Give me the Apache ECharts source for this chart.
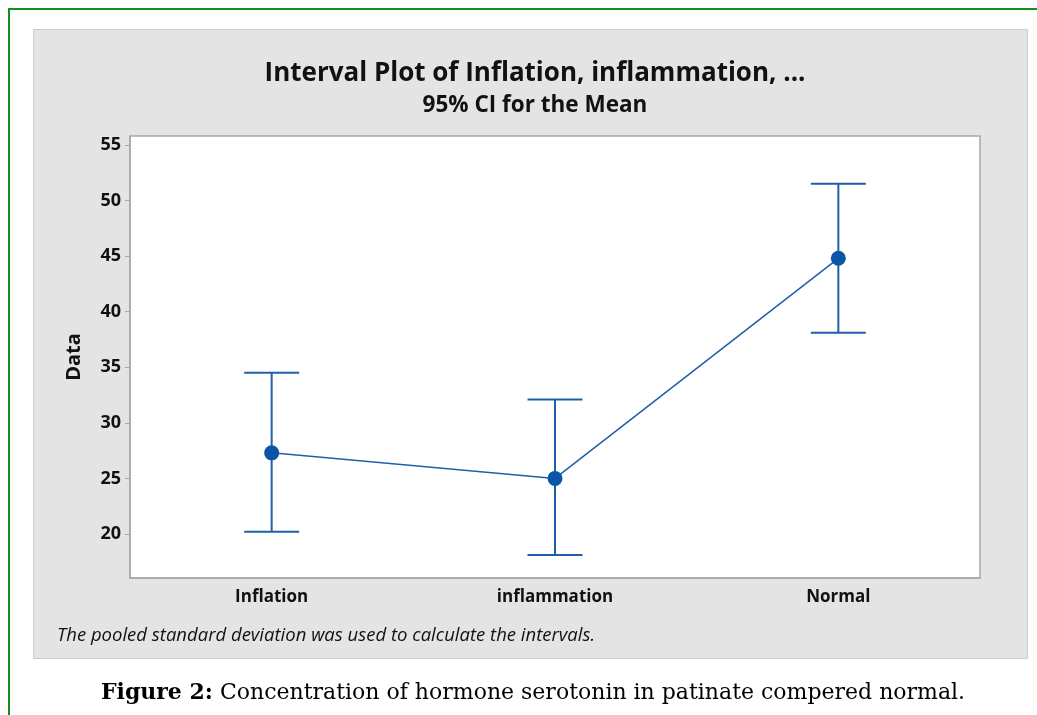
<!DOCTYPE html>
<html>
<head>
<meta charset="utf-8">
<script src="https://cdn.jsdelivr.net/npm/echarts@6/dist/echarts.min.js"></script>
<style>
  html, body { margin: 0; padding: 0; background: #fff; }
  #container { width: 1037px; height: 715px; }
</style>
</head>
<body>
<div id="container"></div>
<script>
var groups = ['Inflation', 'inflammation', 'Normal']
var means = [27.3, 25.0, 44.8]
var lower = [20.2, 18.1, 38.1]
var upper = [34.5, 32.1, 51.5]
var yTicks = [20, 25, 30, 35, 40, 45, 50, 55]

var blue = '#1f5fa8'
var sans = '"Open Sans", "Noto Sans", sans-serif'
var dom = document.getElementById('container')
var myChart = echarts.init(dom)

var barData = groups.map(function(g, i) {
  return [i, lower[i], upper[i]]
})

var option = {
  backgroundColor: '#fff',
  animation: false,
  graphic: [{
    type: 'rect',
    z: -10,
    shape: { x: 9, y: 9, width: 1040, height: 720 },
    style: { fill: '#fff', stroke: '#1a8c1a', lineWidth: 2 }
  }, {
    type: 'rect',
    z: -9,
    shape: { x: 33.5, y: 29.5, width: 994, height: 629 },
    style: { fill: '#e4e4e4', stroke: '#cdcdcd', lineWidth: 1 }
  }, {
    type: 'text',
    x: 57,
    y: 626,
    style: {
      text: 'The pooled standard deviation was used to calculate the intervals.',
      font: 'italic 18.5px "Open Sans", "Noto Sans", sans-serif',
      fill: '#111'
    }
  }, {
    type: 'text',
    x: 533,
    y: 682,
    style: {
      align: 'center',
      rich: {
        b: { fontFamily: '"DejaVu Serif", serif', fontWeight: 'bold', fontSize: 22, fill: '#000' },
        n: { fontFamily: '"DejaVu Serif", serif', fontSize: 22, fill: '#000' }
      },
      text: '{b|Figure 2:}{n| Concentration of hormone serotonin in patinate compered normal.}'
    }
  }],
  title: [{
    text: 'Interval Plot of Inflation, inflammation, ...',
    subtext: '95% CI for the Mean',
    left: 530,
    textAlign: 'center',
    top: 56,
    itemGap: 7,
    textStyle: {
      fontFamily: sans,
      fontWeight: 'bold',
      fontSize: 26,
      color: '#111'
    },
    subtextStyle: {
      fontFamily: sans,
      fontWeight: 'bold',
      fontSize: 22.5,
      color: '#111'
    }
  }],
  grid: {
    left: 130,
    top: 136,
    width: 850,
    height: 442,
    show: true,
    backgroundColor: '#fff',
    borderColor: '#a8a8a8',
    borderWidth: 1.5
  },
  xAxis: {
    type: 'category',
    data: groups,
    boundaryGap: true,
    axisLine: { lineStyle: { color: '#a8a8a8', width: 1.5 } },
    axisTick: { alignWithLabel: true, length: 5, lineStyle: { color: '#a8a8a8' } },
    axisLabel: {
      margin: 11,
      fontFamily: sans,
      fontWeight: 'bold',
      fontSize: 17,
      color: '#111'
    },
    splitLine: { show: false }
  },
  yAxis: {
    type: 'value',
    min: 16.04,
    max: 55.8,
    name: 'Data',
    nameLocation: 'middle',
    nameGap: 46,
    nameTextStyle: {
      fontFamily: sans,
      fontWeight: 'bold',
      fontSize: 20,
      color: '#111'
    },
    axisLine: { show: true, lineStyle: { color: '#a8a8a8', width: 1.5 } },
    axisTick: { show: true, length: 5, customValues: yTicks, lineStyle: { color: '#a8a8a8' } },
    axisLabel: {
      customValues: yTicks,
      margin: 9,
      fontFamily: sans,
      fontWeight: 'bold',
      fontSize: 18,
      color: '#111'
    },
    splitLine: { show: false }
  },
  series: [{
    type: 'custom',
    name: 'CI',
    data: barData,
    encode: { x: 0, y: [1, 2] },
    renderItem: function(params, api) {
      var x = api.value(0)
      var lo = api.coord([x, api.value(1)])
      var hi = api.coord([x, api.value(2)])
      var hw = 27.5
      var st = { stroke: blue, lineWidth: 2 }
      return {
        type: 'group',
        children: [{
          type: 'line',
          shape: { x1: lo[0], y1: lo[1], x2: hi[0], y2: hi[1] },
          style: st
        }, {
          type: 'line',
          shape: { x1: hi[0] - hw, y1: hi[1], x2: hi[0] + hw, y2: hi[1] },
          style: st
        }, {
          type: 'line',
          shape: { x1: lo[0] - hw, y1: lo[1], x2: lo[0] + hw, y2: lo[1] },
          style: st
        }]
      }
    },
    z: 2
  }, {
    type: 'line',
    name: 'Mean',
    data: means,
    symbol: 'circle',
    symbolSize: 15,
    itemStyle: { color: '#0a55a6' },
    lineStyle: { color: blue, width: 1.5 },
    z: 3
  }]
}

myChart.setOption(option)
</script>
</body>
</html>
